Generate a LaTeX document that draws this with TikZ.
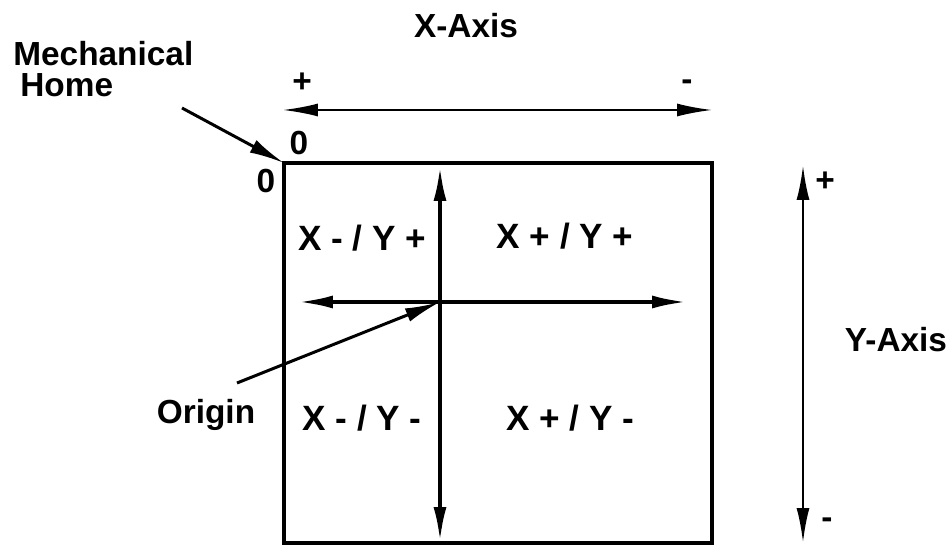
\documentclass[tikz,border=0pt]{standalone}
\usepackage{fontspec}
\setmainfont{Liberation Sans}
\usepackage{tikz}
\usetikzlibrary{arrows.meta, positioning}

\begin{document}
\begin{tikzpicture}[
  x=0.02cm, y=-0.02cm,
  font=\bfseries\fontsize{19}{18}\selectfont,
  lbl/.style={inner sep=0pt},
  quad/.style={inner sep=0pt, font=\bfseries\fontsize{20}{20}\selectfont},
  box/.style={line width=2.6pt},
  ar/.style={{Latex[length=7mm, width=2.6mm]}-{Latex[length=7mm, width=2.6mm]}, line width=2.2pt},
  pt/.style={-{Latex[length=7mm, width=2.8mm]}, line width=1.7pt}
]
\useasboundingbox (0,0) rectangle (951,546);
% frame
\coordinate (nw) at (284,163);
\coordinate (se) at (712,543);
\draw[box] (nw) rectangle (se);
% axes inside the frame
\coordinate (vtop) at (440,166);
\coordinate (vbot) at (440,542);
\coordinate (hl) at (298,302);
\coordinate (hr) at (687,302);
\coordinate (orig) at (440,302);
\draw[ar] (vtop) -- (vbot);
\draw[ar] (hl) -- (hr);
% x-axis and y-axis outside
\coordinate (xl) at (283,110);
\coordinate (xr) at (712,110);
\draw[ar, line width=1.1pt] (xl) -- (xr);
\coordinate (yt) at (803,165);
\coordinate (yb) at (803,543);
\draw[ar, line width=1.6pt] (yt) -- (yb);
\node[lbl] (xaxis) at (466,26) {X-Axis};
\node[lbl] (xplus) at (302,83) {+};
\node[lbl] (xminus) at (687,85) {-};
\node[lbl] (yplus) at (825,182) {+};
\node[lbl] (yminus) at (827,523) {-};
\node[lbl] (yaxis) at (896,340) {Y-Axis};
% zeros at mechanical home
\node[lbl] (zerotop) at (299,143) {0};
\node[lbl] (zeroleft) at (266,181) {0};
\node[lbl, anchor=base west, align=left] (mech) at (13,97) {Mechanical\\\hspace*{0.14cm}Home};
\coordinate (mechtail) at (182,108);
\draw[pt] (mechtail) -- (nw);
% quadrants
\node[quad] (qmp) at (362,238) {X - / Y +};
\node[quad] (qpp) at (565,236) {X + / Y +};
\node[quad] (qmm) at (362,418) {X - / Y -};
\node[quad] (qpm) at (570,418) {X + / Y -};
\node[lbl] (origin) at (206,415) {Origin};
\coordinate (origtail) at (237,383);
\draw[pt] (origtail) -- (orig);
\end{tikzpicture}
\end{document}
